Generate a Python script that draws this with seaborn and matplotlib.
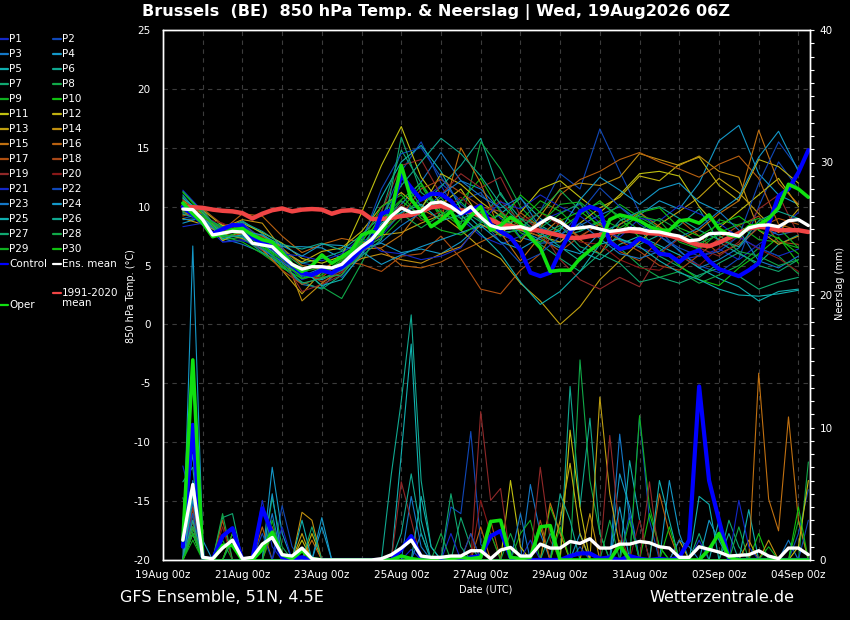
import numpy as np
import pandas as pd
import matplotlib
matplotlib.use("Agg")
import matplotlib.pyplot as plt
from matplotlib.lines import Line2D
import seaborn as sns

# hours after 19Aug 00z
hours = list(range(12, 391, 6))          # 6-hourly steps of the main runs
member_hours = list(range(12, 385, 12))

tick_hours = [0, 48, 96, 144, 192, 240, 288, 336, 384]
tick_labels = ["19Aug 00z", "21Aug 00z", "23Aug 00z", "25Aug 00z", "27Aug 00z",
               "29Aug 00z", "31Aug 00z", "02Sep 00z", "04Sep 00z"]

# 850 hPa temperature (deg C)
climate = [10.0, 9.95, 9.9, 9.75, 9.65, 9.6, 9.45, 9.0, 9.4, 9.7,
           9.85, 9.6, 9.75, 9.8, 9.75, 9.4, 9.65, 9.7, 9.55, 8.95,
           8.95, 9.05, 9.2, 9.3, 9.6, 9.95, 10.05, 9.85, 9.7, 9.55,
           9.2, 8.9, 8.5, 8.35, 8.2, 8.05, 7.95, 7.75, 7.55, 7.35,
           7.35, 7.5, 7.6, 7.75, 7.9, 7.95, 7.85, 7.75, 7.7, 7.55,
           7.3, 7.0, 6.75, 6.65, 6.95, 7.35, 7.75, 8.15, 8.3, 8.2,
           8.0, 8.0, 8.0, 7.85]
ens_mean = [9.8, 9.75, 8.9, 7.6, 7.75, 7.9, 7.85, 6.9, 6.75, 6.6,
            5.8, 5.1, 4.7, 4.9, 4.9, 4.8, 5.1, 5.9, 6.6, 7.2,
            8.2, 9.2, 9.9, 9.5, 9.6, 10.3, 10.4, 10.0, 9.4, 10.0,
            9.1, 8.4, 8.15, 8.2, 8.3, 8.05, 8.6, 9.1, 8.7, 8.1,
            8.2, 8.3, 8.1, 7.9, 8.0, 8.15, 8.1, 7.9, 7.85, 7.65,
            7.5, 7.1, 7.2, 7.7, 7.75, 7.7, 7.5, 8.2, 8.4, 8.45,
            8.3, 8.8, 8.9, 8.4]
control = [10.0, 9.3, 8.6, 7.7, 8.1, 8.45, 8.4, 7.4, 6.9, 6.6,
           5.8, 5.0, 4.35, 4.2, 4.6, 4.35, 4.85, 5.5, 6.4, 7.0,
           9.4, 9.7, 12.7, 11.6, 10.6, 11.1, 11.05, 10.5, 9.4, 9.7,
           10.1, 8.5, 7.9, 7.4, 6.3, 4.4, 4.1, 4.4, 6.2, 7.8,
           9.6, 10.0, 9.7, 7.0, 6.4, 6.6, 7.3, 6.9, 6.0, 5.9,
           5.3, 6.0, 6.3, 5.4, 4.7, 4.4, 4.1, 4.6, 5.2, 8.5,
           10.9, 11.5, 12.9, 14.8]
oper = [10.3, 9.4, 8.6, 7.45, 7.7, 8.0, 8.15, 7.6, 7.2, 7.0,
        6.1, 5.1, 4.5, 5.0, 5.9, 5.2, 5.75, 6.3, 7.6, 7.9,
        7.7, 9.5, 13.5, 10.6, 9.6, 8.3, 8.85, 9.6, 8.1, 9.2,
        10.0, 8.0, 8.4, 9.1, 8.6, 7.4, 6.5, 4.5, 4.6, 4.6,
        5.6, 6.3, 6.9, 8.9, 9.3, 9.1, 8.8, 8.3, 8.0, 8.0,
        8.8, 8.9, 8.6, 9.3, 8.1, 7.6, 7.45, 8.3, 8.45, 9.0,
        9.9, 11.9, 11.5, 10.8]

# precipitation (mm per 6 h)
oper_rain = [1.5, 15.1, 0.2, 0.0, 1.1, 1.1, 0.0, 0.0, 0.8, 2.1,
             0.4, 0.1, 0.7, 0.1, 0.0, 0.0, 0.0, 0.0, 0.0, 0.0,
             0.0, 0.0, 0.3, 0.1, 0.0, 0.0, 0.2, 0.1, 0.2, 0.1,
             0.2, 2.9, 3.0, 0.2, 0.1, 0.2, 2.5, 2.6, 0.0, 0.0,
             0.0, 0.0, 0.0, 0.0, 1.1, 0.0, 0.0, 0.0, 0.0, 0.0,
             0.0, 0.0, 0.0, 0.8, 2.0, 0.2, 0.0, 0.0, 0.0, 0.0,
             0.0, 0.0, 0.0, 0.0]
control_rain = [1.0, 10.2, 0.2, 0.0, 1.8, 2.4, 0.0, 0.1, 3.9, 2.0,
                0.2, 0.1, 0.2, 0.0, 0.0, 0.0, 0.0, 0.0, 0.0, 0.0,
                0.0, 0.0, 0.8, 1.8, 0.2, 0.0, 0.0, 0.1, 0.0, 0.2,
                0.3, 1.8, 2.2, 0.2, 0.0, 0.0, 0.0, 0.0, 0.0, 0.3,
                0.5, 0.5, 0.1, 0.2, 0.0, 0.3, 0.1, 0.0, 0.1, 0.0,
                0.2, 1.5, 13.1, 6.0, 3.0, 0.1, 0.0, 0.0, 0.0, 0.0,
                0.0, 0.0, 0.0, 0.0]
mean_rain = [1.5, 5.7, 0.2, 0.1, 0.9, 1.5, 0.1, 0.2, 1.2, 1.7,
             0.4, 0.3, 0.9, 0.1, 0.0, 0.0, 0.0, 0.0, 0.0, 0.0,
             0.1, 0.4, 0.9, 1.5, 0.3, 0.2, 0.2, 0.3, 0.3, 0.7,
             0.7, 0.1, 0.75, 0.95, 0.3, 0.3, 1.2, 0.9, 0.9, 1.4,
             1.25, 1.6, 0.9, 0.9, 1.2, 1.2, 1.4, 1.3, 1.0, 0.9,
             0.2, 0.2, 1.0, 0.8, 0.6, 0.3, 0.35, 0.4, 0.7, 0.3,
             0.1, 0.9, 0.9, 0.4]

# members P1..P30, temperature every 12 h
member_temp = [
    [11.4, 9.6, 7.0, 7.2, 6.3, 5.4, 3.8, 4.4, 4.6, 6.0, 7.5, 9.5, 10.5, 11.8, 9.0, 7.5, 6.8, 7.5, 8.8, 9.5, 10.2, 8.6, 7.2, 6.5, 6.0, 5.5, 5.8, 6.4, 5.5, 6.8, 8.0, 9.5],
    [9.0, 9.4, 8.0, 8.3, 7.1, 6.3, 5.2, 4.9, 4.0, 5.8, 9.0, 13.0, 15.5, 12.0, 10.5, 11.2, 9.0, 8.1, 9.6, 12.8, 11.5, 16.6, 13.0, 9.5, 8.0, 6.2, 5.0, 4.4, 5.6, 10.0, 13.8, 11.5],
    [10.2, 9.0, 7.3, 6.8, 6.1, 5.0, 3.4, 3.1, 4.9, 6.7, 8.8, 10.2, 12.1, 14.6, 12.2, 11.5, 9.7, 7.4, 6.9, 7.0, 8.4, 9.3, 10.0, 8.8, 7.5, 6.3, 4.8, 5.5, 6.5, 8.4, 7.6, 8.0],
    [8.6, 9.1, 7.9, 8.0, 7.5, 6.6, 6.6, 6.5, 5.6, 6.4, 6.9, 6.1, 6.4, 6.0, 7.0, 8.5, 7.8, 8.0, 7.2, 6.5, 6.0, 7.8, 8.5, 9.3, 10.5, 9.8, 12.0, 15.6, 16.9, 12.8, 11.0, 10.2],
    [10.8, 8.7, 7.6, 8.3, 7.0, 6.0, 4.2, 3.8, 4.6, 7.2, 10.8, 13.8, 15.2, 13.0, 9.8, 8.2, 9.4, 10.7, 9.0, 7.8, 6.2, 5.5, 6.8, 7.5, 6.7, 5.9, 4.8, 3.9, 3.2, 2.0, 2.8, 3.0],
    [9.5, 9.2, 8.1, 8.8, 7.7, 6.4, 5.2, 5.6, 6.2, 6.9, 8.0, 12.5, 10.0, 11.7, 13.5, 15.8, 11.0, 9.0, 8.4, 7.5, 7.9, 8.7, 7.2, 6.8, 7.6, 8.4, 9.8, 7.0, 6.0, 5.2, 6.8, 7.6],
    [11.3, 9.5, 7.2, 7.4, 6.6, 4.9, 3.6, 3.0, 4.2, 6.3, 9.5, 14.8, 12.0, 9.2, 9.8, 8.7, 11.2, 8.4, 6.8, 5.6, 4.5, 6.0, 7.7, 8.2, 5.8, 4.9, 4.0, 5.2, 6.1, 5.0, 4.5, 5.5],
    [10.0, 8.8, 7.8, 8.5, 7.2, 6.2, 4.9, 3.2, 2.2, 5.2, 8.5, 10.5, 9.2, 10.8, 8.5, 15.5, 13.2, 10.0, 8.2, 9.4, 10.3, 8.0, 6.5, 5.0, 4.0, 4.5, 3.5, 4.2, 5.0, 6.5, 5.8, 4.3],
    [9.7, 9.9, 8.3, 7.6, 6.9, 5.7, 4.5, 4.8, 5.0, 6.5, 7.3, 9.0, 10.8, 9.5, 8.7, 9.6, 7.8, 8.8, 10.5, 9.6, 8.0, 8.8, 10.2, 9.1, 8.2, 7.3, 6.4, 8.9, 8.4, 7.2, 7.0, 6.5],
    [10.9, 9.2, 7.5, 7.0, 6.0, 4.8, 3.9, 4.2, 5.5, 6.8, 7.9, 9.8, 11.8, 9.0, 10.5, 12.4, 9.5, 7.8, 7.0, 8.2, 9.3, 10.5, 9.0, 7.4, 6.5, 5.0, 3.8, 3.3, 4.8, 6.0, 7.4, 5.2],
    [9.3, 9.7, 8.4, 8.6, 7.8, 6.9, 5.6, 5.2, 5.8, 9.5, 13.5, 16.8, 12.5, 10.2, 11.5, 9.0, 7.6, 9.5, 11.5, 12.2, 10.8, 9.5, 11.0, 12.8, 13.0, 12.6, 10.0, 8.2, 9.6, 11.0, 12.4, 10.0],
    [10.5, 9.4, 7.1, 8.0, 7.3, 6.2, 5.3, 6.2, 6.5, 7.9, 10.0, 11.2, 9.8, 12.8, 11.9, 10.4, 9.2, 8.0, 7.5, 7.0, 8.6, 9.9, 10.8, 12.6, 12.2, 13.6, 14.2, 11.8, 10.5, 14.0, 13.4, 12.0],
    [9.0, 8.5, 7.7, 7.3, 6.4, 4.6, 2.6, 4.5, 5.8, 6.5, 7.6, 7.8, 8.6, 9.3, 8.0, 6.5, 5.6, 3.5, 2.0, 0.0, 1.5, 3.8, 5.4, 7.0, 8.5, 9.6, 10.8, 12.4, 11.2, 9.4, 7.8, 9.8],
    [10.1, 8.9, 8.2, 8.9, 8.6, 6.4, 2.0, 3.5, 4.7, 5.6, 6.0, 5.5, 5.2, 6.0, 6.6, 8.5, 7.6, 7.0, 9.2, 11.5, 12.0, 11.8, 12.5, 14.5, 14.0, 13.5, 14.3, 13.0, 12.5, 8.0, 6.8, 7.5],
    [10.4, 9.1, 7.9, 8.1, 7.5, 6.5, 5.0, 4.7, 5.6, 6.4, 6.5, 7.6, 9.8, 8.9, 15.0, 12.0, 7.8, 5.4, 7.5, 9.0, 7.2, 6.0, 8.5, 9.5, 8.3, 7.2, 8.0, 9.4, 10.5, 16.5, 12.0, 10.2],
    [9.6, 8.7, 8.0, 9.4, 9.2, 7.5, 6.1, 6.8, 7.3, 7.0, 6.4, 5.0, 4.8, 5.3, 6.2, 7.0, 7.8, 9.5, 8.2, 11.0, 12.3, 13.0, 14.0, 14.6, 13.8, 13.2, 12.5, 13.6, 14.3, 12.4, 8.5, 8.0],
    [10.6, 9.3, 7.4, 7.7, 6.3, 4.6, 3.4, 4.0, 5.4, 5.1, 4.5, 5.8, 6.0, 7.5, 5.6, 3.0, 2.6, 4.6, 6.0, 8.8, 7.4, 8.6, 6.2, 5.4, 7.2, 8.9, 7.5, 6.0, 6.8, 8.2, 9.0, 8.5],
    [9.2, 9.8, 8.5, 8.2, 6.8, 5.9, 4.6, 3.6, 4.4, 6.6, 8.2, 9.2, 11.5, 12.3, 11.2, 10.0, 9.6, 8.3, 7.4, 6.2, 7.5, 8.5, 7.1, 6.2, 5.0, 4.6, 5.9, 7.3, 8.4, 9.2, 7.0, 6.8],
    [10.3, 9.6, 7.7, 8.4, 7.4, 5.5, 2.8, 3.4, 4.2, 7.5, 9.6, 13.5, 14.0, 11.0, 12.8, 11.6, 12.5, 9.2, 8.0, 5.5, 3.8, 3.0, 4.0, 3.2, 6.0, 7.3, 6.5, 5.8, 7.0, 9.8, 11.0, 7.6],
    [9.9, 9.0, 8.6, 7.8, 7.0, 6.1, 4.3, 3.9, 4.5, 6.0, 8.4, 10.2, 8.8, 9.6, 10.8, 9.3, 10.5, 8.7, 9.5, 8.4, 7.0, 6.8, 5.5, 4.8, 4.6, 5.8, 5.0, 6.5, 7.5, 6.4, 5.6, 4.5],
    [8.3, 8.6, 7.0, 7.1, 6.7, 6.0, 5.8, 5.4, 6.0, 7.4, 6.2, 6.0, 5.5, 5.8, 6.5, 8.7, 10.4, 9.8, 11.0, 10.0, 9.2, 8.0, 7.4, 9.0, 8.8, 10.1, 9.4, 8.6, 7.4, 6.5, 5.8, 6.4],
    [9.8, 9.3, 8.2, 8.6, 7.2, 6.5, 4.0, 4.6, 5.2, 7.0, 11.5, 14.5, 15.0, 12.5, 10.2, 9.0, 7.0, 5.2, 6.0, 7.5, 9.5, 11.6, 10.0, 8.5, 7.5, 6.5, 5.8, 6.2, 7.5, 12.0, 15.5, 13.2],
    [11.0, 8.9, 7.5, 7.5, 6.4, 5.3, 4.1, 4.8, 4.6, 6.3, 7.0, 8.4, 9.5, 11.0, 12.2, 10.9, 9.9, 10.8, 8.2, 7.6, 8.6, 7.3, 6.0, 5.6, 6.2, 7.4, 8.2, 9.6, 8.0, 5.4, 4.8, 5.8],
    [8.9, 9.0, 7.8, 7.9, 7.6, 6.7, 5.8, 6.8, 6.7, 6.2, 5.1, 5.9, 6.6, 7.2, 7.8, 8.4, 7.0, 6.4, 7.4, 8.0, 10.6, 12.5, 11.4, 10.2, 11.5, 12.0, 10.4, 9.6, 10.8, 14.2, 16.4, 13.0],
    [10.7, 9.5, 7.3, 7.6, 6.8, 5.6, 4.7, 3.3, 3.8, 6.0, 8.6, 9.5, 10.2, 8.8, 9.3, 7.7, 6.0, 3.6, 1.7, 2.8, 4.5, 6.8, 7.3, 6.6, 5.4, 4.4, 3.8, 3.0, 2.5, 2.4, 2.6, 2.9],
    [9.4, 8.8, 8.0, 8.7, 7.9, 6.8, 6.4, 6.9, 6.3, 7.6, 9.2, 11.8, 13.8, 15.8, 14.5, 12.6, 10.2, 8.6, 7.8, 6.6, 5.4, 7.0, 8.8, 9.6, 10.0, 9.0, 8.0, 7.2, 6.6, 8.8, 9.6, 9.0],
    [10.1, 9.7, 7.6, 7.4, 6.1, 5.2, 3.5, 3.9, 4.6, 5.8, 7.2, 15.9, 11.2, 10.0, 9.0, 9.5, 8.3, 9.0, 7.6, 8.4, 6.6, 6.0, 5.2, 3.6, 4.0, 3.5, 4.2, 4.8, 4.1, 3.0, 3.6, 4.0],
    [9.6, 9.1, 8.3, 8.0, 6.5, 5.5, 4.4, 4.0, 4.2, 6.2, 7.8, 9.4, 8.2, 9.3, 10.4, 8.8, 7.5, 8.2, 9.6, 11.4, 9.7, 10.3, 9.2, 8.0, 9.0, 8.0, 6.9, 7.6, 6.2, 5.8, 5.0, 5.5],
    [10.0, 9.2, 8.1, 8.2, 6.9, 5.0, 4.2, 4.4, 5.4, 6.9, 10.0, 11.0, 9.0, 8.0, 7.6, 8.6, 9.4, 7.3, 8.6, 10.2, 10.4, 9.0, 8.2, 9.2, 8.8, 7.0, 6.4, 7.8, 8.5, 9.0, 8.2, 6.5],
    [11.2, 9.4, 7.4, 7.9, 6.6, 5.6, 3.9, 4.6, 5.1, 7.1, 9.0, 10.6, 12.0, 9.6, 8.3, 10.0, 8.6, 11.0, 9.5, 8.8, 9.6, 8.4, 7.8, 9.5, 9.9, 8.2, 7.5, 8.5, 9.2, 8.0, 7.3, 6.0],
]

# member rain: (6-h step index, mm); all other steps are dry
member_rain = [
    [(0, 7.1), (1, 4.0), (8, 4.5), (9, 1.0), (23, 0.8), (52, 1.5)],
    [(1, 3.0), (10, 4.1), (11, 1.0), (27, 4.0), (28, 3.5), (29, 9.7), (30, 1.2), (46, 10.8), (47, 3.0), (62, 2.0), (63, 5.3)],
    [(1, 6.0), (5, 2.0), (23, 4.8), (24, 1.0), (35, 5.7), (36, 2.0), (44, 9.5), (45, 3.0), (61, 1.5)],
    [(1, 23.7), (2, 1.5), (9, 7.0), (10, 2.0), (14, 3.2), (40, 2.0), (44, 6.5), (45, 4.0), (49, 6.0), (50, 2.0)],
    [(1, 5.5), (22, 8.0), (23, 16.3), (24, 3.0), (45, 7.5), (46, 3.0), (52, 4.8), (53, 4.2), (57, 3.8)],
    [(0, 5.9), (1, 7.0), (21, 6.5), (22, 12.0), (23, 18.5), (24, 6.0), (25, 1.0), (39, 13.1), (40, 4.0), (41, 10.7), (42, 2.0)],
    [(1, 3.5), (4, 3.2), (5, 3.5), (9, 2.5), (28, 3.2), (29, 1.0), (55, 3.0), (56, 1.0)],
    [(0, 4.7), (1, 2.0), (9, 4.7), (10, 1.0), (40, 15.1), (41, 6.0), (42, 2.0), (63, 7.4)],
    [(1, 2.5), (4, 1.5), (34, 2.0), (35, 3.0), (46, 10.9), (47, 4.0), (48, 1.0), (62, 3.0)],
    [(1, 3.0), (9, 2.0), (37, 4.0), (38, 2.0), (47, 3.5), (48, 1.0), (58, 2.0)],
    [(1, 2.0), (12, 1.5), (33, 6.0), (34, 1.0), (39, 9.8), (40, 4.0), (62, 1.0), (63, 6.0)],
    [(1, 4.0), (13, 2.0), (38, 3.0), (39, 7.3), (40, 2.0), (50, 1.5)],
    [(1, 2.5), (12, 2.0), (42, 12.3), (43, 5.0), (44, 1.0), (57, 1.5)],
    [(1, 3.0), (12, 3.6), (13, 3.0), (36, 2.5), (41, 3.5), (59, 1.5)],
    [(1, 5.0), (13, 1.5), (37, 4.3), (38, 2.0), (58, 14.1), (59, 4.6), (60, 2.2), (61, 10.8), (62, 3.0)],
    [(1, 2.0), (8, 2.5), (30, 2.5), (48, 5.0), (49, 2.0)],
    [(1, 3.5), (4, 3.0), (9, 2.5), (31, 3.0), (44, 1.5)],
    [(0, 2.0), (1, 5.0), (5, 2.0), (29, 2.0), (36, 3.0)],
    [(1, 4.0), (22, 5.9), (23, 3.0), (30, 11.2), (31, 4.5), (32, 5.4), (36, 7.0), (37, 1.5), (43, 9.4), (44, 2.0), (47, 5.9)],
    [(1, 3.0), (4, 2.5), (30, 4.5), (31, 2.0), (46, 3.0)],
    [(1, 2.0), (10, 2.5), (27, 2.0), (35, 1.5), (56, 4.5), (57, 1.0)],
    [(1, 3.5), (8, 2.0), (29, 2.0), (40, 1.0), (45, 3.5), (63, 3.0)],
    [(1, 4.5), (9, 3.5), (24, 2.0), (34, 3.5), (50, 1.5), (51, 1.0)],
    [(0, 3.0), (1, 8.0), (9, 5.0), (14, 2.5), (44, 4.0), (53, 3.0), (54, 1.5)],
    [(1, 5.0), (12, 3.0), (24, 4.8), (25, 1.0), (48, 6.0), (49, 3.0), (54, 3.0)],
    [(1, 3.0), (22, 2.0), (23, 6.5), (24, 2.0), (38, 5.0), (39, 3.0), (55, 2.0)],
    [(1, 2.0), (5, 1.5), (13, 2.5), (27, 5.0), (28, 1.0), (37, 2.0), (52, 2.0)],
    [(1, 2.5), (4, 3.5), (26, 2.0), (33, 2.0), (43, 3.0), (56, 2.5)],
    [(1, 1.5), (9, 3.0), (31, 2.0), (45, 3.0), (59, 1.0)],
    [(1, 2.0), (5, 2.0), (38, 2.5), (49, 2.5), (62, 4.0)],
]

base_colors = ["#1428c8", "#1048b8", "#1478c8", "#1498c8", "#10b0b0",
               "#10a890", "#10a870", "#10a848", "#10b020", "#10c010",
               "#c0c010", "#c0b010", "#c0a010", "#c09010", "#c07010",
               "#b86010", "#b05010", "#a84818", "#902828", "#881818"]
member_names = [f"P{k + 1}" for k in range(30)]
member_colors = dict(zip(member_names, base_colors + base_colors[:10]))

CONTROL_C = "#0000ff"
OPER_C = "#10e010"
MEAN_C = "white"
CLIM_C = "#f04545"

# long tables for seaborn
temp_rows = []
for name, vals in zip(member_names, member_temp):
    for h, v in zip(member_hours, vals):
        temp_rows.append((name, h, v))
temp_df = pd.DataFrame(temp_rows, columns=["member", "hour", "temp"])

rain_rows = []
for name, spikes in zip(member_names, member_rain):
    amounts = np.zeros(len(hours))
    for i, mm in spikes:
        amounts[i] = mm
    for h, v in zip(hours, amounts):
        rain_rows.append((name, h, v))
rain_df = pd.DataFrame(rain_rows, columns=["member", "hour", "rain"])

sns.set_theme(style="dark")
plt.rcParams["font.family"] = ["DejaVu Sans"]
plt.rcParams["axes.unicode_minus"] = False

W, H = 850, 620
fig = plt.figure(figsize=(8.5, 6.2), dpi=100, facecolor="black")
ax = fig.add_axes([163 / W, 60 / H, 647 / W, 530 / H])
ax.set_facecolor("black")

# temperature
sns.lineplot(data=temp_df, x="hour", y="temp", hue="member", palette=member_colors,
             estimator=None, legend=False, lw=0.8, ax=ax)
sns.lineplot(x=hours, y=climate, color=CLIM_C, lw=3.2, ax=ax)
sns.lineplot(x=hours, y=control, color=CONTROL_C, lw=3.0, ax=ax)
sns.lineplot(x=hours, y=oper, color=OPER_C, lw=2.6, ax=ax)
sns.lineplot(x=hours, y=ens_mean, color=MEAN_C, lw=2.4, ax=ax)

ax.set_xlim(0, 391)
ax.set_ylim(-20, 25)
ax.set_xticks(tick_hours)
ax.set_xticklabels(tick_labels)
ax.set_xticks(list(range(24, 391, 24)), minor=True)
ax.set_yticks(list(range(-20, 26, 5)))
ax.grid(True, which="both", axis="x", color="#3c3c3c", ls=(0, (4, 4)), lw=0.8)
ax.grid(True, which="major", axis="y", color="#3c3c3c", ls=(0, (4, 4)), lw=0.8)
ax.tick_params(axis="x", which="both", colors="white", labelsize=7.5, length=0, pad=7)
ax.tick_params(axis="y", colors="white", labelsize=7.5, length=0, pad=9)
ax.set_xlabel("")
ax.set_ylabel("")

# precipitation on the right axis
ax2 = ax.twinx()
sns.lineplot(data=rain_df, x="hour", y="rain", hue="member", palette=member_colors,
             estimator=None, legend=False, lw=0.8, ax=ax2)
sns.lineplot(x=hours, y=control_rain, color=CONTROL_C, lw=3.0, ax=ax2)
sns.lineplot(x=hours, y=oper_rain, color=OPER_C, lw=2.6, ax=ax2)
sns.lineplot(x=hours, y=mean_rain, color=MEAN_C, lw=2.4, ax=ax2)
ax2.set_ylim(0, 40)
ax2.set_xlim(0, 391)
ax2.set_yticks([0, 10, 20, 30, 40])
ax2.set_yticks(list(range(0, 41)), minor=True)
ax2.grid(False)
ax2.tick_params(axis="y", which="major", colors="white", labelsize=7.5, length=3, width=0.8, pad=4)
ax2.tick_params(axis="y", which="minor", colors="white", length=3, width=0.8)
ax2.set_xlabel("")
ax2.set_ylabel("")

for a in (ax, ax2):
    for sp in a.spines.values():
        sp.set_color("white")
        sp.set_linewidth(1.0)
        sp.set_visible(True)

# texts
fig.text(436 / W, 1 - 12 / H, "Brussels  (BE)  850 hPa Temp. & Neerslag | Wed, 19Aug2026 06Z",
         color="white", fontsize=11.6, fontweight="bold", ha="center", va="center")
fig.text(131 / W, 1 - 296 / H, "850 hPa Temp. (°C)", color="white", fontsize=7,
         rotation=90, ha="center", va="center")
fig.text(840 / W, 1 - 283 / H, "Neerslag (mm)", color="white", fontsize=7,
         rotation=90, ha="center", va="center")
fig.text(486 / W, 1 - 589 / H, "Date (UTC)", color="white", fontsize=7,
         ha="center", va="center")
fig.text(120 / W, 1 - 598 / H, "GFS Ensemble, 51N, 4.5E", color="white", fontsize=11.5,
         ha="left", va="center")
fig.text(794 / W, 1 - 598 / H, "Wetterzentrale.de", color="white", fontsize=11.5,
         ha="right", va="center")


def legend_entry(x0, y, color, label):
    fig.add_artist(Line2D([x0 / W, (x0 + 8) / W], [1 - y / H, 1 - y / H],
                          color=color, lw=1.6, transform=fig.transFigure))
    if label:
        fig.text((x0 + 9) / W, 1 - y / H, label, color="white", fontsize=7.5,
                 ha="left", va="center")


for k in range(15):
    y = 39 + 15 * k
    legend_entry(0, y, member_colors[member_names[2 * k]], member_names[2 * k])
    legend_entry(53, y, member_colors[member_names[2 * k + 1]], member_names[2 * k + 1])
legend_entry(0, 264, CONTROL_C, "Control")
legend_entry(53, 264, MEAN_C, "Ens. mean")
legend_entry(53, 293, CLIM_C, "1991-2020")
fig.text(62 / W, 1 - 303 / H, "mean", color="white", fontsize=7.5, ha="left", va="center")
legend_entry(0, 305, OPER_C, "Oper")

fig.savefig("out.png", dpi=100, facecolor="black")
